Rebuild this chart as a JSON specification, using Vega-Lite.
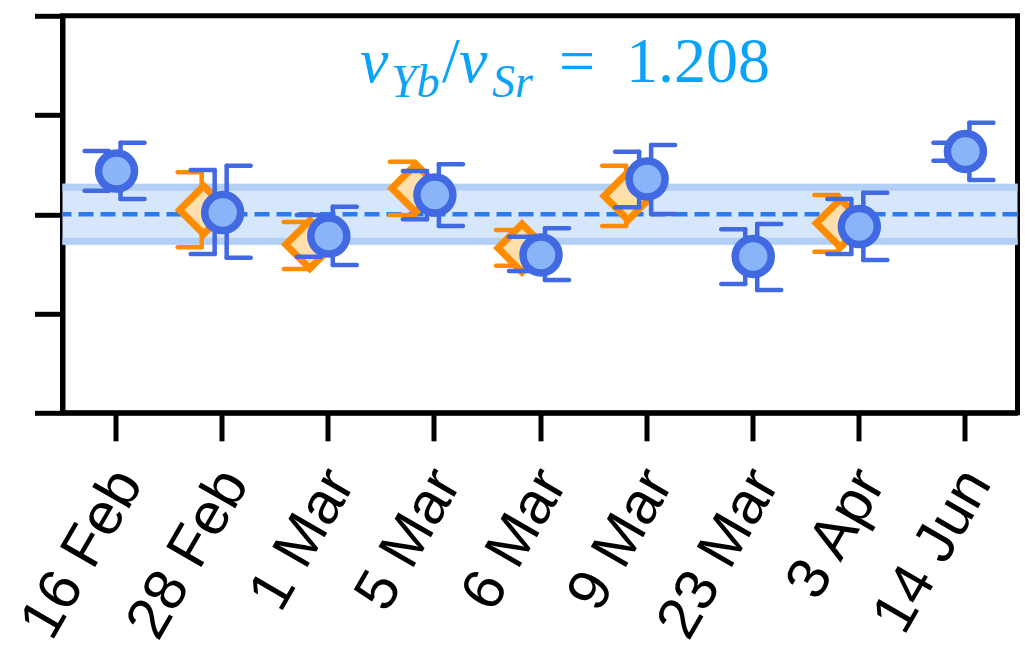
{
  "$schema": "https://vega.github.io/schema/vega-lite/v6.json",
  "width": 955,
  "height": 397,
  "autosize": {"type": "none"},
  "padding": {"left": 62.5, "top": 15.8, "right": 7.5, "bottom": 239.2},
  "background": "white",
  "config": {
    "view": {"stroke": "black", "strokeWidth": 5},
    "axis": {"grid": false, "title": null, "domainColor": "black", "domainWidth": 5, "tickColor": "black", "tickWidth": 5, "tickSize": 28, "tickCap": "butt"}
  },
  "datasets": {
    "band": [{"lo": -0.307, "hi": 0.307, "elo": -0.272, "ehi": 0.272, "mid": 0}],
    "blue": [
      {"date": "16 Feb", "y": 0.436, "hiR": 0.721, "loR": 0.154, "hiL": 0.638, "loL": 0.238},
      {"date": "28 Feb", "y": 0.018, "hiR": 0.49, "loR": -0.437, "hiL": 0.446, "loL": -0.4},
      {"date": "1 Mar", "y": -0.219, "hiR": 0.077, "loR": -0.511, "hiL": -0.007, "loL": -0.427},
      {"date": "5 Mar", "y": 0.194, "hiR": 0.504, "loR": -0.118, "hiL": 0.436, "loL": -0.05},
      {"date": "6 Mar", "y": -0.41, "hiR": -0.141, "loR": -0.662, "hiL": -0.226, "loL": -0.571},
      {"date": "9 Mar", "y": 0.356, "hiR": 0.698, "loR": 0.003, "hiL": 0.631, "loL": 0.071},
      {"date": "23 Mar", "y": -0.425, "hiR": -0.098, "loR": -0.763, "hiL": -0.151, "loL": -0.702},
      {"date": "3 Apr", "y": -0.123, "hiR": 0.218, "loR": -0.46, "hiL": 0.154, "loL": -0.4},
      {"date": "14 Jun", "y": 0.633, "hiR": 0.923, "loR": 0.346, "hiL": 0.721, "loL": 0.54}
    ],
    "orange": [
      {"date": "28 Feb", "y": 0.043, "hi": 0.423, "lo": -0.332},
      {"date": "1 Mar", "y": -0.304, "hi": -0.078, "lo": -0.551},
      {"date": "5 Mar", "y": 0.262, "hi": 0.53, "lo": -0.007},
      {"date": "6 Mar", "y": -0.34, "hi": -0.158, "lo": -0.518},
      {"date": "9 Mar", "y": 0.184, "hi": 0.49, "lo": -0.118},
      {"date": "3 Apr", "y": -0.091, "hi": 0.194, "lo": -0.377}
    ]
  },
  "layer": [
    {
      "data": {"name": "band"},
      "mark": {"type": "rect", "color": "#d6e6fb"},
      "encoding": {
        "y": {"field": "lo", "type": "quantitative", "scale": {"domain": [-2, 2], "nice": false, "zero": false},
              "axis": {"labels": false, "values": [-2, -1, 0, 1, 2]}},
        "y2": {"field": "hi"}
      }
    },
    {
      "data": {"name": "band"},
      "mark": {"type": "rule", "color": "#b2cff6", "strokeWidth": 7},
      "encoding": {"y": {"field": "elo", "type": "quantitative"}}
    },
    {
      "data": {"name": "band"},
      "mark": {"type": "rule", "color": "#b2cff6", "strokeWidth": 7},
      "encoding": {"y": {"field": "ehi", "type": "quantitative"}}
    },
    {
      "data": {"name": "band"},
      "mark": {"type": "rule", "color": "#2a7bf2", "strokeWidth": 4.5, "strokeDash": [15, 7]},
      "encoding": {"y": {"field": "mid", "type": "quantitative"}}
    },
    {
      "data": {"name": "orange"},
      "mark": {"type": "rule", "color": "#ff8c00", "strokeWidth": 4.5, "strokeCap": "round", "xOffset": -20},
      "encoding": {
        "x": {"field": "date", "type": "ordinal",
              "scale": {"type": "point", "padding": 0.5, "domain": ["16 Feb", "28 Feb", "1 Mar", "5 Mar", "6 Mar", "9 Mar", "23 Mar", "3 Apr", "14 Jun"]},
              "axis": {"labelAngle": -60, "labelAlign": "right", "labelBaseline": "middle", "labelFont": "Liberation Sans", "labelFontSize": 59, "labelColor": "black", "labelPadding": 33, "labelOffset": 12, "labelLimit": 500, "labelOverlap": false}},
        "y": {"field": "lo", "type": "quantitative"},
        "y2": {"field": "hi"}
      }
    },
    {
      "data": {"name": "orange"},
      "mark": {"type": "rule", "color": "#ff8c00", "strokeWidth": 4.5, "strokeCap": "round", "xOffset": -44, "x2Offset": -20},
      "encoding": {"x": {"field": "date", "type": "ordinal"}, "x2": {"field": "date"}, "y": {"field": "hi", "type": "quantitative"}}
    },
    {
      "data": {"name": "orange"},
      "mark": {"type": "rule", "color": "#ff8c00", "strokeWidth": 4.5, "strokeCap": "round", "xOffset": -44, "x2Offset": -20},
      "encoding": {"x": {"field": "date", "type": "ordinal"}, "x2": {"field": "date"}, "y": {"field": "lo", "type": "quantitative"}}
    },
    {
      "data": {"name": "orange"},
      "mark": {"type": "point", "shape": "diamond", "size": 2304, "filled": true, "fill": "#ffe0ad", "fillOpacity": 1, "stroke": "#ff8c00", "strokeWidth": 7, "opacity": 1, "xOffset": -18},
      "encoding": {"x": {"field": "date", "type": "ordinal"}, "y": {"field": "y", "type": "quantitative"}}
    },
    {
      "data": {"name": "blue"},
      "mark": {"type": "rule", "color": "#4169e1", "strokeWidth": 4.5, "strokeCap": "round", "xOffset": 5},
      "encoding": {"x": {"field": "date", "type": "ordinal"}, "y": {"field": "loR", "type": "quantitative"}, "y2": {"field": "hiR"}}
    },
    {
      "data": {"name": "blue"},
      "mark": {"type": "rule", "color": "#4169e1", "strokeWidth": 4.5, "strokeCap": "round", "xOffset": 5, "x2Offset": 29},
      "encoding": {"x": {"field": "date", "type": "ordinal"}, "x2": {"field": "date"}, "y": {"field": "hiR", "type": "quantitative"}}
    },
    {
      "data": {"name": "blue"},
      "mark": {"type": "rule", "color": "#4169e1", "strokeWidth": 4.5, "strokeCap": "round", "xOffset": 5, "x2Offset": 29},
      "encoding": {"x": {"field": "date", "type": "ordinal"}, "x2": {"field": "date"}, "y": {"field": "loR", "type": "quantitative"}}
    },
    {
      "data": {"name": "blue"},
      "mark": {"type": "rule", "color": "#4169e1", "strokeWidth": 4.5, "strokeCap": "round", "xOffset": -7},
      "encoding": {"x": {"field": "date", "type": "ordinal"}, "y": {"field": "loL", "type": "quantitative"}, "y2": {"field": "hiL"}}
    },
    {
      "data": {"name": "blue"},
      "mark": {"type": "rule", "color": "#4169e1", "strokeWidth": 4.5, "strokeCap": "round", "xOffset": -31, "x2Offset": -7},
      "encoding": {"x": {"field": "date", "type": "ordinal"}, "x2": {"field": "date"}, "y": {"field": "hiL", "type": "quantitative"}}
    },
    {
      "data": {"name": "blue"},
      "mark": {"type": "rule", "color": "#4169e1", "strokeWidth": 4.5, "strokeCap": "round", "xOffset": -31, "x2Offset": -7},
      "encoding": {"x": {"field": "date", "type": "ordinal"}, "x2": {"field": "date"}, "y": {"field": "loL", "type": "quantitative"}}
    },
    {
      "data": {"name": "blue"},
      "mark": {"type": "point", "shape": "circle", "size": 1294, "filled": true, "fill": "#8ab4f8", "fillOpacity": 1, "stroke": "#4169e1", "strokeWidth": 7.5, "opacity": 1, "xOffset": 1},
      "encoding": {"x": {"field": "date", "type": "ordinal"}, "y": {"field": "y", "type": "quantitative"}}
    },
    {
      "data": {"values": [{}]},
      "mark": {"type": "text", "text": "ν", "font": "Liberation Serif", "fontStyle": "italic", "fontSize": 64, "color": "#0aa3f5", "align": "left", "baseline": "alphabetic", "dx": -74},
      "encoding": {"x": {"datum": "5 Mar", "type": "ordinal"}, "y": {"datum": 1.333, "type": "quantitative"}}
    },
    {
      "data": {"values": [{}]},
      "mark": {"type": "text", "text": "Yb", "font": "Liberation Serif", "fontStyle": "italic", "fontSize": 46, "color": "#0aa3f5", "align": "left", "baseline": "alphabetic", "dx": -43},
      "encoding": {"x": {"datum": "5 Mar", "type": "ordinal"}, "y": {"datum": 1.179, "type": "quantitative"}}
    },
    {
      "data": {"values": [{}]},
      "mark": {"type": "text", "text": "/", "font": "Liberation Serif", "fontSize": 64, "color": "#0aa3f5", "align": "left", "baseline": "alphabetic", "dx": 8},
      "encoding": {"x": {"datum": "5 Mar", "type": "ordinal"}, "y": {"datum": 1.333, "type": "quantitative"}}
    },
    {
      "data": {"values": [{}]},
      "mark": {"type": "text", "text": "ν", "font": "Liberation Serif", "fontStyle": "italic", "fontSize": 64, "color": "#0aa3f5", "align": "left", "baseline": "alphabetic", "dx": 25},
      "encoding": {"x": {"datum": "5 Mar", "type": "ordinal"}, "y": {"datum": 1.333, "type": "quantitative"}}
    },
    {
      "data": {"values": [{}]},
      "mark": {"type": "text", "text": "Sr", "font": "Liberation Serif", "fontStyle": "italic", "fontSize": 46, "color": "#0aa3f5", "align": "left", "baseline": "alphabetic", "dx": 58},
      "encoding": {"x": {"datum": "5 Mar", "type": "ordinal"}, "y": {"datum": 1.179, "type": "quantitative"}}
    },
    {
      "data": {"values": [{}]},
      "mark": {"type": "text", "text": "=", "font": "Liberation Serif", "fontSize": 64, "color": "#0aa3f5", "align": "left", "baseline": "alphabetic", "dx": 125},
      "encoding": {"x": {"datum": "5 Mar", "type": "ordinal"}, "y": {"datum": 1.333, "type": "quantitative"}}
    },
    {
      "data": {"values": [{}]},
      "mark": {"type": "text", "text": "1.208", "font": "Liberation Serif", "fontSize": 64, "color": "#0aa3f5", "align": "left", "baseline": "alphabetic", "dx": 192},
      "encoding": {"x": {"datum": "5 Mar", "type": "ordinal"}, "y": {"datum": 1.333, "type": "quantitative"}}
    }
  ]
}
